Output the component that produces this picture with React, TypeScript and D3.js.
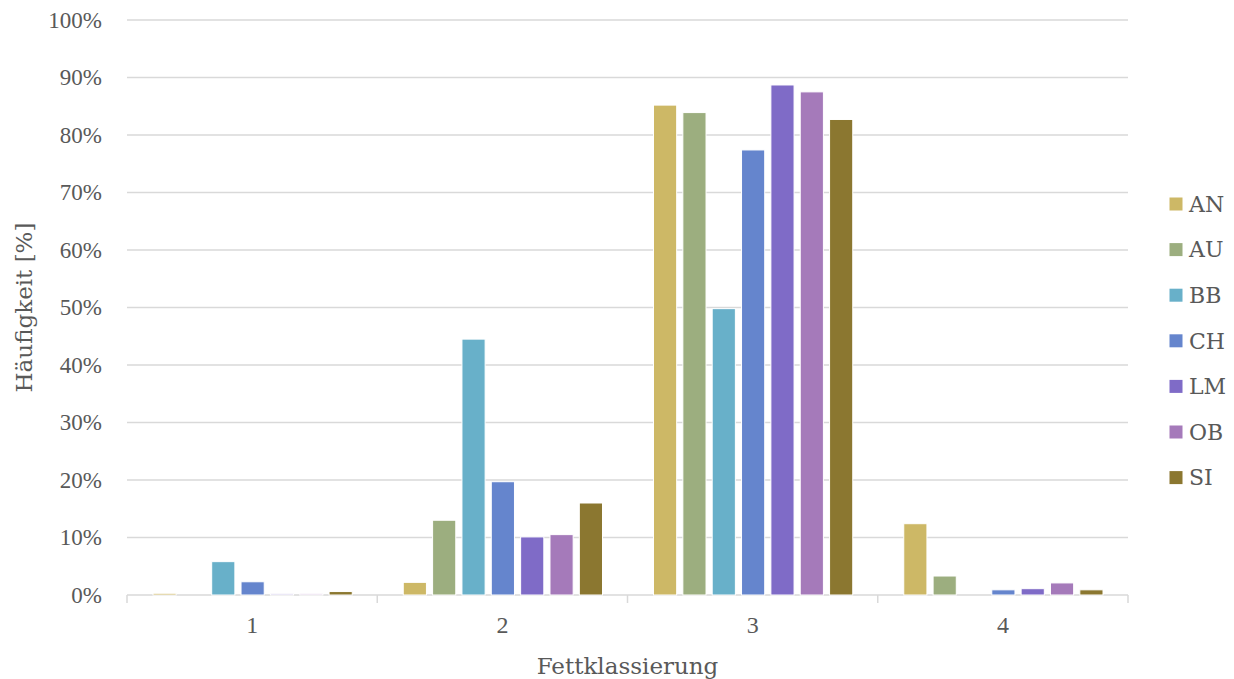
import React from "react";
import * as d3 from "d3";

const categories = ["1", "2", "3", "4"];
const seriesNames = ["AN", "AU", "BB", "CH", "LM", "OB", "SI"];
const colors = ["#CDB866", "#9CAE7F", "#68B0C9", "#6585CD", "#7F6BC7", "#A57ABA", "#8B7730"];
// values in percent, one array per series, indexed by category
const AN = [0.3, 2.2, 85.2, 12.4];
const AU = [0.0, 13.0, 83.9, 3.3];
const BB = [5.8, 44.5, 49.8, 0.0];
const CH = [2.3, 19.7, 77.4, 0.9];
const LM = [0.2, 10.1, 88.7, 1.1];
const OB = [0.2, 10.5, 87.5, 2.1];
const SI = [0.6, 16.0, 82.7, 0.9];
const seriesValues = [AN, AU, BB, CH, LM, OB, SI];
const yTicks = [0, 10, 20, 30, 40, 50, 60, 70, 80, 90, 100];

const W = 1234;
const H = 679;
const WORD_FONT = "'DejaVu Serif', serif";
const NUM_FONT = "'Liberation Serif', serif";
const TXT = "#595959";
const GRID = "#d9d9d9";

export default function App() {
  const left = 127, right = 1128, top = 20, bottom = 595;
  const x0 = d3.scaleBand<string>().domain(categories).range([left, right]).padding(0);
  const x1 = d3
    .scaleBand<string>()
    .domain(seriesNames)
    .range([26, x0.bandwidth() - 25])
    .paddingInner(0.21)
    .paddingOuter(0);
  const y = d3.scaleLinear().domain([0, 100]).range([bottom, top]);

  const tickXs = [...categories.map((c) => x0(c) as number), right];

  return (
    <svg
      width={W}
      height={H}
      style={{ position: "absolute", left: 0, top: 0, background: "#fff" }}
    >
      {yTicks.map((t) => (
        <g key={t}>
          <line x1={left} x2={right} y1={y(t)} y2={y(t)} stroke={GRID} strokeWidth={1.5} />
          <text
            x={102}
            y={y(t) + 7.5}
            textAnchor="end"
            fontFamily={NUM_FONT}
            fontSize={23}
            fill={TXT}
          >
            {t}%
          </text>
        </g>
      ))}
      {tickXs.map((tx, i) => (
        <line key={i} x1={tx} x2={tx} y1={bottom} y2={bottom + 8} stroke={GRID} strokeWidth={1.5} />
      ))}
      {categories.map((c, ci) => (
        <g key={c} transform={`translate(${x0(c)},0)`}>
          {seriesNames.map((s, si) => {
            const v = seriesValues[si][ci];
            return (
              <rect
                key={s}
                x={x1(s)}
                y={y(v)}
                width={x1.bandwidth()}
                height={y(0) - y(v)}
                fill={colors[si]}
                stroke="#fff"
                strokeWidth={1}
              />
            );
          })}
          <text
            x={x0.bandwidth() / 2}
            y={633}
            textAnchor="middle"
            fontFamily={NUM_FONT}
            fontSize={24}
            fill={TXT}
          >
            {c}
          </text>
        </g>
      ))}
      <text
        transform={`translate(32,${(top + bottom) / 2}) rotate(-90)`}
        textAnchor="middle"
        fontFamily={WORD_FONT}
        fontSize={23}
        fill={TXT}
      >
        Häufigkeit [%]
      </text>
      <text
        x={(left + right) / 2}
        y={674}
        textAnchor="middle"
        fontFamily={WORD_FONT}
        fontSize={23}
        fill={TXT}
      >
        Fettklassierung
      </text>
      {seriesNames.map((s, i) => (
        <g key={s} transform={`translate(1169.5,${204 + i * 45.6})`}>
          <rect x={0} y={-6.5} width={13} height={13} fill={colors[i]} />
          <text x={19.5} y={7.8} fontFamily={WORD_FONT} fontSize={22} fill={TXT}>
            {s}
          </text>
        </g>
      ))}
    </svg>
  );
}
